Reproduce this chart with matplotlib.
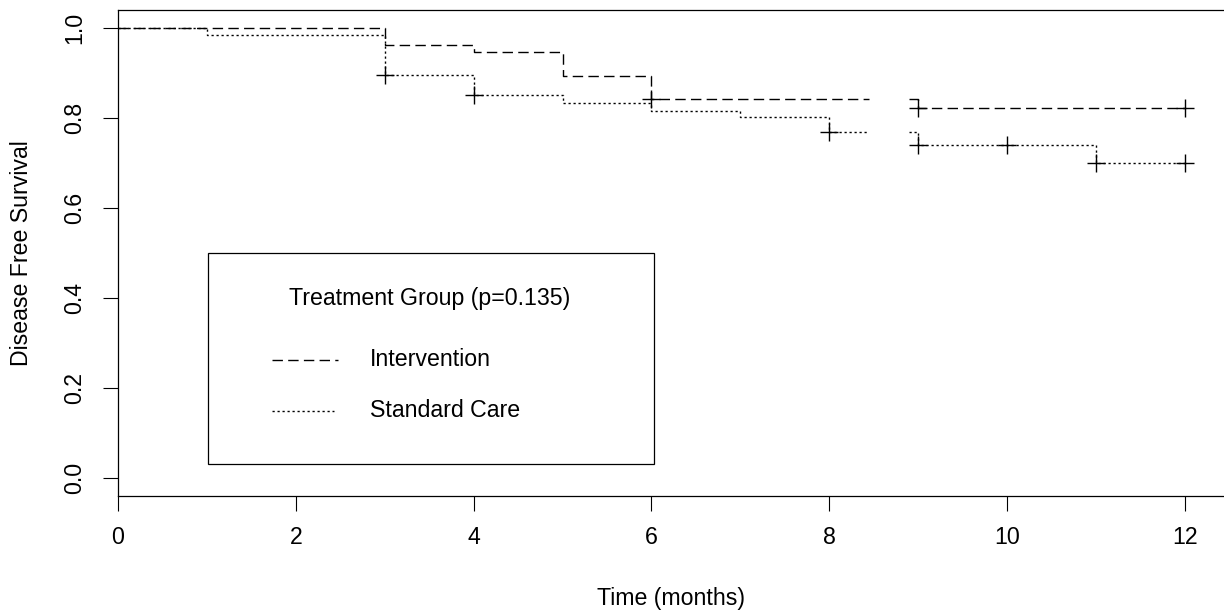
import numpy as np
import matplotlib
matplotlib.use("Agg")
import matplotlib.pyplot as plt
from matplotlib.patches import Rectangle
from matplotlib.lines import Line2D

# ============================================================
# DATA
# ============================================================
INTERVENTION_TIMES = [0, 3, 4, 5, 6, 9]
INTERVENTION_SURV = [1.0, 0.963, 0.946, 0.894, 0.843, 0.822]
INTERVENTION_CENSOR = [6, 9, 12]

STANDARD_TIMES = [0, 1, 3, 4, 5, 6, 7, 8, 9, 11]
STANDARD_SURV = [1.0, 0.984, 0.896, 0.851, 0.833, 0.816, 0.802, 0.769, 0.739, 0.701]
STANDARD_CENSOR = [3, 4, 8, 9, 10, 11, 12]

END_TIME = 12
GAP = (8.45, 8.90)  # the curves are broken here in the original

X_TICKS = [0, 2, 4, 6, 8, 10, 12]
Y_TICKS = [0.0, 0.2, 0.4, 0.6, 0.8, 1.0]

LEGEND_TITLE = "Treatment Group (p=0.135)"
GROUP_LABELS = ["Intervention", "Standard Care"]

# ============================================================
# STYLE
# ============================================================
plt.rcParams.update({
    "font.family": ["Liberation Sans", "DejaVu Sans"],
    "font.size": 16.5,
    "lines.scale_dashes": False,
})

DASHED = (0, (7.5, 3.8))
DOTTED = (0, (1.6, 2.0))
LW = 1.0
FS = 16.7


def surv_at(times, surv, t):
    idx = np.searchsorted(times, t, side="right") - 1
    return surv[max(idx, 0)]


def step_segment(ax, times, surv, t0, t1, ls):
    pts = [t0] + [t for t in times if t0 < t < t1] + [t1]
    vals = [surv_at(times, surv, t) for t in pts]
    ax.step(pts, vals, where="post", color="black", linestyle=ls, linewidth=LW)


def draw_curve(ax, times, surv, censor, ls):
    step_segment(ax, times, surv, 0, GAP[0], ls)
    step_segment(ax, times, surv, GAP[1], END_TIME, ls)
    cy = [surv_at(times, surv, t) for t in censor]
    ax.plot(censor, cy, linestyle="none", marker="+", markersize=13,
            markeredgewidth=1.0, color="black")


fig = plt.figure(figsize=(12.24, 6.15), dpi=100)
ax = fig.add_axes([118 / 1224, 119 / 615, 1 - 118 / 1224, 486 / 615])

draw_curve(ax, INTERVENTION_TIMES, INTERVENTION_SURV, INTERVENTION_CENSOR, DASHED)
draw_curve(ax, STANDARD_TIMES, STANDARD_SURV, STANDARD_CENSOR, DOTTED)

ax.set_xlim(0, 12.44)
ax.set_ylim(-0.04, 1.04)
ax.set_xticks(X_TICKS)
ax.set_xticklabels([str(t) for t in X_TICKS])
ax.set_yticks(Y_TICKS)
ax.set_yticklabels([f"{v:.1f}" for v in Y_TICKS], rotation=90, va="center")

ax.tick_params(axis="both", direction="out", length=10.8, width=0.8, labelsize=FS)
ax.tick_params(axis="x", pad=10.5)
ax.tick_params(axis="y", pad=12)

for side in ["left", "bottom", "top"]:
    ax.spines[side].set_linewidth(0.9)
ax.spines["right"].set_visible(False)

ax.set_xlabel("Time (months)", fontsize=FS, labelpad=28)
ax.set_ylabel("Disease Free Survival", fontsize=FS, labelpad=22)

# legend box drawn in data coords, like R's legend(x=1, y=0.5)
ax.add_patch(Rectangle((1.01, 0.031), 5.02, 0.47, facecolor="white",
                       edgecolor="black", linewidth=0.9, zorder=5))
ax.text(3.50, 0.399, LEGEND_TITLE, ha="center", va="center", fontsize=FS, zorder=6)
for ls, lab, yy, x1 in [(DASHED, GROUP_LABELS[0], 0.263, 2.48),
                        (DOTTED, GROUP_LABELS[1], 0.149, 2.43)]:
    ax.add_line(Line2D([1.73, x1], [yy, yy], color="black", linestyle=ls,
                       linewidth=LW, zorder=6))
    ax.text(2.83, yy, lab, ha="left", va="center", fontsize=FS, zorder=6)

fig.savefig("out.png", dpi=100)
